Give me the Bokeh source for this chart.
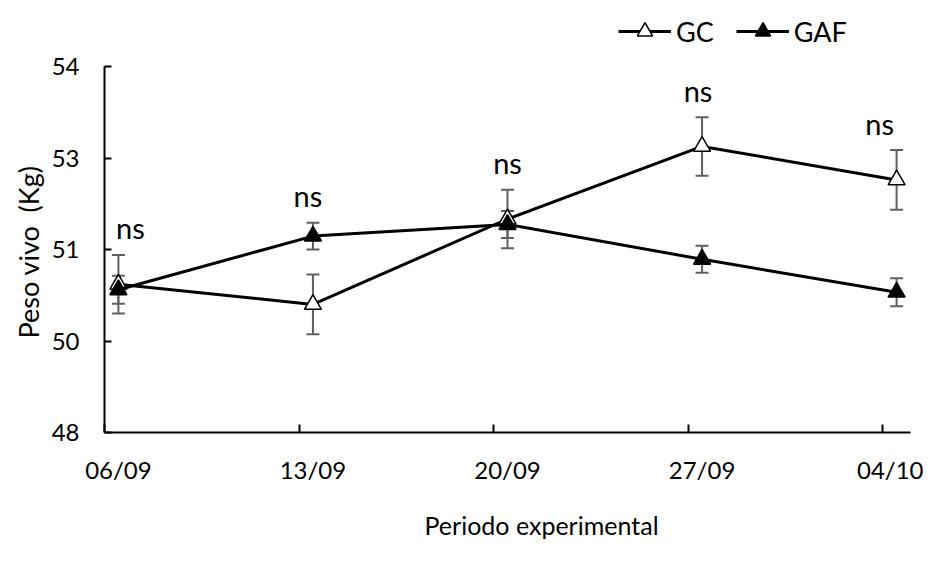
from bokeh.plotting import figure
from bokeh.models import (ColumnDataSource, FixedTicker, Whisker, TeeHead, Legend,
                          LegendItem, Title)
from bokeh.core.properties import value
from bokeh.embed import file_html
from bokeh.resources import INLINE

# ---- data ----
dates = ["06/09", "13/09", "20/09", "27/09", "04/10"]
day_index = [0, 7, 14, 21, 28]           # days since 06/09
gc_mean = [50.43, 50.10, 51.50, 52.69, 52.14]
gc_err = [0.48, 0.49, 0.48, 0.48, 0.49]
gaf_mean = [50.34, 51.22, 51.41, 50.84, 50.30]
gaf_err = [0.23, 0.22, 0.22, 0.22, 0.23]
sig = ["ns", "ns", "ns", "ns", "ns"]
y_ticks = [48, 49.5, 51, 52.5, 54]

FONT = "Lato"
x_pos = [d + 0.5 for d in day_index]

gc_src = ColumnDataSource(dict(x=x_pos, y=gc_mean,
                               upper=[m + e for m, e in zip(gc_mean, gc_err)],
                               lower=[m - e for m, e in zip(gc_mean, gc_err)]))
gaf_src = ColumnDataSource(dict(x=x_pos, y=gaf_mean,
                                upper=[m + e for m, e in zip(gaf_mean, gaf_err)],
                                lower=[m - e for m, e in zip(gaf_mean, gaf_err)]))
top = [max(a + b, c + d) for a, b, c, d in zip(gc_mean, gc_err, gaf_mean, gaf_err)]
ns_src = ColumnDataSource(dict(x=x_pos, y=top, text=sig, dx=[12, -5, 0, -4, -17]))

# frame extends above the axis end (54) to leave room for the legend
p = figure(width=923, height=564, output_backend="svg", toolbar_location=None,
           x_range=(0, 29), y_range=(48, 54 + 58 / 61),
           min_border_left=104, min_border_right=13, min_border_top=8,
           min_border_bottom=132)
p.outline_line_color = None
p.xgrid.visible = False
p.ygrid.visible = False
p.background_fill_color = "white"
p.border_fill_color = "white"

# x axis
xa = p.xaxis[0]
xa.ticker = FixedTicker(ticks=x_pos, minor_ticks=day_index)
xa.major_label_overrides = {x: lab for x, lab in zip(x_pos, dates)}
xa.major_tick_in = 0
xa.major_tick_out = 0
xa.minor_tick_in = 8
xa.minor_tick_out = 0
xa.minor_tick_line_color = "black"
xa.minor_tick_line_width = 2
xa.axis_line_color = "black"
xa.axis_line_width = 2
xa.major_label_text_font = FONT
xa.major_label_text_font_size = "24px"
xa.major_label_text_color = "black"
xa.major_label_standoff = 22

# y axis
ya = p.yaxis[0]
ya.ticker = FixedTicker(ticks=y_ticks)
ya.bounds = (48, 54)
ya.major_label_overrides = {t: "%d" % int(t + 0.5) for t in y_ticks}
ya.major_tick_in = 7
ya.major_tick_out = 0
ya.major_tick_line_color = "black"
ya.major_tick_line_width = 2
ya.minor_tick_line_color = None
ya.axis_line_color = "black"
ya.axis_line_width = 2
ya.major_label_text_font = FONT
ya.major_label_text_font_size = "24px"
ya.major_label_text_color = "black"
ya.major_label_standoff = 25

# y-axis title (centred on the 48-54 span, not the whole frame)
yt = Title(text="Peso vivo\u00a0\u00a0(Kg)", align="left", offset=94, standoff=8,
           text_font=FONT, text_font_size="27px", text_font_style="normal",
           text_color="black")
p.add_layout(yt, "left")

# x-axis title, placed in the lower panel
xt = Title(text="Periodo experimental", align="left", offset=320, standoff=42,
           vertical_align="bottom",
           text_font=FONT, text_font_size="25px", text_font_style="normal",
           text_color="black")
p.add_layout(xt, "below")

# error bars
ebc = "#606060"
for src in (gc_src, gaf_src):
    w = Whisker(source=src, base="x", upper="upper", lower="lower",
                line_color=ebc, line_width=2, level="underlay",
                upper_head=TeeHead(size=13, line_color=ebc, line_width=2),
                lower_head=TeeHead(size=13, line_color=ebc, line_width=2))
    p.add_layout(w)

# series
gc_line = p.line("x", "y", source=gc_src, line_color="black", line_width=3)
gc_mark = p.scatter("x", "y", source=gc_src, marker="triangle", size=17,
                    fill_color="white", line_color="black", line_width=1.5)
gaf_line = p.line("x", "y", source=gaf_src, line_color="black", line_width=3)
gaf_mark = p.scatter("x", "y", source=gaf_src, marker="triangle", size=17,
                     fill_color="black", line_color="black", line_width=1.5)

# significance labels
p.text("x", "y", text="text", source=ns_src, x_offset="dx", y_offset=-27,
       text_align="center", text_baseline="alphabetic",
       text_font=value(FONT), text_font_size="29px", text_color="black")

# legend
legend = Legend(items=[LegendItem(label="GC", renderers=[gc_line, gc_mark]),
                       LegendItem(label="GAF", renderers=[gaf_line, gaf_mark])],
                orientation="horizontal", location=(514, 382),
                glyph_width=53, glyph_height=38, label_standoff=5, spacing=22,
                padding=0, margin=0, border_line_color=None,
                background_fill_alpha=0,
                label_text_font=FONT, label_text_font_size="27px",
                label_text_color="black")
p.add_layout(legend)

open("out.html", "w").write(file_html(p, INLINE))
